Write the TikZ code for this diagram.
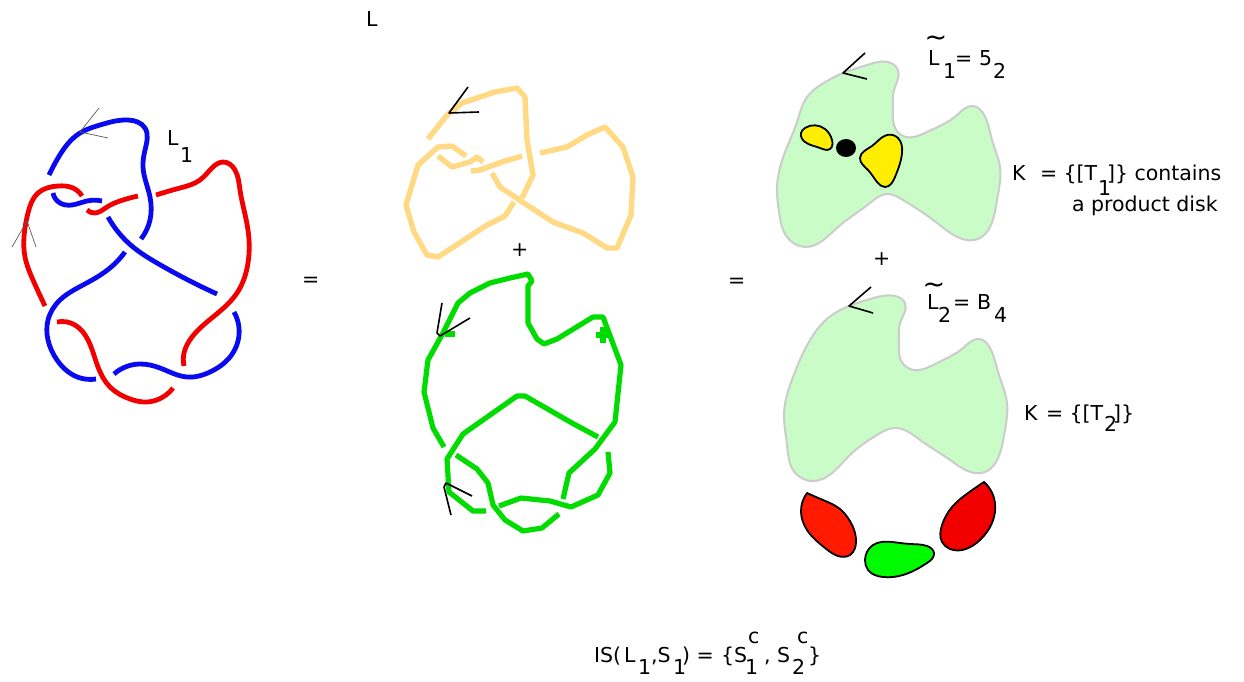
\documentclass[tikz,border=0pt]{standalone}
\usepackage{fontspec}
\usetikzlibrary{hobby}
\setmainfont{DejaVu Sans}
\definecolor{kblue}{HTML}{0A0AF0}
\definecolor{kred}{HTML}{F20000}
\definecolor{kpeach}{HTML}{FFD983}
\definecolor{kgreen}{HTML}{00DC00}
\definecolor{kpale}{HTML}{C9FCC6}
\definecolor{kyellow}{HTML}{FFEE00}
\definecolor{kredb}{HTML}{FF1A00}
\definecolor{kgray}{HTML}{CCCCCC}
\definecolor{kbright}{HTML}{00FA00}
\tikzset{
 bluearc/.style={draw=kblue,line width=4.8pt,line cap=butt,use Hobby shortcut},
 redarc/.style={draw=kred,line width=4.8pt,line cap=butt,use Hobby shortcut},
 peacharc/.style={draw=kpeach,line width=5.4pt,line join=round},
 greenarc/.style={draw=kgreen,line width=5.2pt,line join=round},
 thinmark/.style={draw=black!65,line width=.7pt},
 blackmark/.style={draw=black,line width=1.6pt,line join=round},
 region/.style={fill=kpale,draw=kgray,line width=2pt,use Hobby shortcut},
 blob/.style={draw=black,line width=1.8pt,line join=round,use Hobby shortcut},
 txt/.style={anchor=base west,inner sep=0pt,outer sep=0pt,font=\fontsize{20.5}{22}\selectfont},
 tld/.style={anchor=base,inner sep=0pt,font=\fontsize{27}{27}\selectfont},
}
\begin{document}
\begin{tikzpicture}[x=1pt,y=-1pt]
\useasboundingbox (0,0) rectangle (1244,682);
% left knot
\draw[bluearc] (49,175)..(58,158)..(80,133)..(100,125)..(128,120)..(145,128)..(145,150)..(143,167)..(150,197)..(150,220)..(141,239);
\draw[bluearc] (53,193)..(60,203)..(72,205)..(87,201)..(102,201);
\draw[bluearc] (108,217)..(133,247)..(157,263)..(217,294);
\draw[bluearc] (125,252)..(110,268)..(83,285)..(60,300)..(48,320)..(48,340)..(57,360)..(73,375)..(96,379);
\draw[bluearc] (114,374)..(140,364)..(160,368)..(187,377)..(210,372)..(230,357)..(239,335)..(234,312);
\draw[redarc] (45,306)..(33,280)..(25,257)..(24,237)..(28,213)..(38,193)..(58,186)..(73,188)..(82,196);
\draw[redarc] (87,210)..(95,213)..(107,207)..(123,200)..(138,196);
\draw[redarc] (156,195)..(180,188)..(200,180)..(213,167)..(223,162)..(235,170)..(240,190)..(248,230)..(248,263)..(237,293)..(213,317)..(192,337)..(184,353)..(184,366);
\draw[redarc] (57,322)..(75,325)..(88,340)..(98,367)..(110,387)..(130,399)..(147,402)..(163,397)..(173,388);
\draw[thinmark] (99,108)--(80,132)--(108,138);
\draw[thinmark] (12,247)--(27,221)--(36,247);
% peach knot
\draw[peacharc] (428,139)--(447,115)--(462,103)--(495,92)--(517,88)--(525,97)--(527,140)--(533,175)--(522,198);
\draw[peacharc] (438,156)--(452,167)--(470,162)--(477,157)--(483,162);
\draw[peacharc] (466,156)--(452,146)--(438,147)--(418,165)--(406,205)--(414,232)--(427,255)--(438,257)--(487,225)--(505,216)--(514,202);
\draw[peacharc] (471,171)--(480,170)--(502,162)--(522,156);
\draw[peacharc] (540,153)--(567,147)--(587,135)--(605,127)--(623,147)--(633,177)--(631,215)--(617,248)--(607,248)--(583,233)--(553,222)--(530,207)--(500,187)--(492,173);
\draw[blackmark] (468,87)--(449,113)--(479,112);
% green knot
\draw[greenarc] (444,447)--(433,428)--(424,392)--(428,360)--(443,333)--(452,315)--(458,303)--(470,293)--(490,283)--(510,278)--(528,274)--(532,281)--(528,286)--(528,323)--(537,339)--(544,344)--(557,339)--(593,317)--(603,317)--(621,365)--(615,422)--(595,449)--(569,473)--(563,499);
\draw[greenarc] (598,437)--(572,423)--(525,396)--(517,396)--(463,434)--(447,459)--(449,492)--(473,511)--(486,511);
\draw[greenarc] (456,455)--(477,469)--(488,483)--(493,505)--(505,520)--(523,531)--(542,528)--(559,514);
\draw[greenarc] (499,506)--(521,498)--(550,501)--(571,507)--(598,495)--(610,473)--(608,452);
\draw[greenarc] (445,334)--(455,334);
\draw[greenarc] (596,335)--(611,335);
\draw[greenarc] (603,327)--(603,343);
\draw[blackmark] (442,303)--(437,333)--(440,336)--(470,318);
\draw[blackmark] (451,515)--(444,487)--(446,483)--(472,496);
% top region
\draw[region] ([closed]843,73)..(867,65)..(888,62)..(898,70)..(894,90)..(893,108)..(894,125)..(903,136)..(927,132)..(957,115)..(973,106)..(983,113)..(992,140)..(1000,167)..(997,200)..(990,227)..(980,238)..(937,223)..(903,200)..(887,194)..(870,203)..(837,228)..(805,247)..(787,237)..(779,212)..(777,187)..(787,147)..(797,122)..(807,97)..(822,84);
\draw[blob,fill=kyellow] ([closed]801,133)..(805,128)..(825,129)..(832,140)..(830,149)..(820,148)..(805,142);
\fill[black] (846,148) ellipse [x radius=10,y radius=9];
\draw[blob,fill=kyellow] ([closed]860,158)..(872,146)..(887,135)..(898,138)..(902,153)..(895,177)..(885,187)..(877,182)..(868,170);
\draw[blackmark] (865,53)--(843,73)--(867,79);
% lower region
\draw[region] ([closed]849,306)..(870,299)..(895,296)..(905,303)..(900,323)..(899,342)..(900,358)..(910,369)..(937,363)..(963,348)..(980,339)..(990,348)..(999,375)..(1007,403)..(1005,430)..(1000,453)..(985,472)..(950,460)..(920,440)..(895,428)..(877,435)..(850,455)..(813,481)..(793,470)..(787,445)..(784,413)..(793,377)..(810,340)..(828,318);
\draw[blackmark] (871,287)--(849,306)--(873,313);
\draw[blob,fill=kredb] (807,493)..(823,500)..(840,509)..(848,518)..(856,542)..(850,555)..(838,556)..(825,548)..(807,530)..(801,512)..(807,493) -- cycle;
\draw[blob,fill=kred] (984,482)..(968,493)..(952,507)..(942,525)..(942,542)..(950,549)..(980,540)..(992,523)..(993,495)..(984,482) -- cycle;
\draw[blob,fill=kbright] ([closed]865,560)..(873,545)..(892,542)..(910,544)..(927,546)..(934,553)..(927,563)..(903,575)..(883,577)..(868,570);
% labels
\node[txt] (l1a) at (167,145) {L};
\node[txt] (l1b) at (180,162) {1};
\node[txt] (top) at (366,27) {L};
\node[txt] (eqa) at (302,286) {=};
\node[txt] (eqb) at (728,287) {=};
\node[txt] (pla) at (511,256) {+};
\node[txt] (plb) at (873,265) {+};
\node[tld] (tia) at (936,47) {\char"7E};
\node[txt] (ta) at (928,66) {L};
\node[txt] (tb) at (943,79) {1};
\node[txt] (tc) at (955,66) {=};
\node[txt] (td) at (979,66) {5};
\node[txt] (te) at (993,79) {2};
\node[txt] (ka) at (1012,180) {K};
\node[txt] (kb) at (1040,180) {= \{[T};
\node[txt] (kc) at (1098,195) {1};
\node[txt] (kd) at (1107,180) {]\} contains};
\node[txt] (ke) at (1072,211) {a product disk};
\node[tld] (tib) at (934,293) {\char"7E};
\node[txt] (ua) at (927,309) {L};
\node[txt] (ub) at (938,322) {2};
\node[txt] (uc) at (953,309) {=};
\node[txt] (ud) at (977,309) {B};
\node[txt] (ue) at (994,322) {4};
\node[txt] (va) at (1024,420) {K};
\node[txt] (vb) at (1046,420) {= \{[T};
\node[txt] (vc) at (1104,431) {2};
\node[txt] (vd) at (1113,420) {]\}};
\node[txt] (wa) at (594,662) {IS(};
\node[txt] (wl) at (624,662) {L};
\node[txt] (wb) at (638,674) {1};
\node[txt] (wc) at (651,662) {,S};
\node[txt] (wd) at (673,674) {1};
\node[txt] (we) at (682,662) {) =};
\node[txt] (wm) at (721,662) {\{S};
\node[txt] (wf) at (745,674) {1};
\node[txt] (wg) at (748,643) {c};
\node[txt] (wh) at (764,662) {,};
\node[txt] (wn) at (777,662) {S};
\node[txt] (wi) at (792,674) {2};
\node[txt] (wj) at (797,643) {c};
\node[txt] (wk) at (808,662) {\}};
\end{tikzpicture}
\end{document}
